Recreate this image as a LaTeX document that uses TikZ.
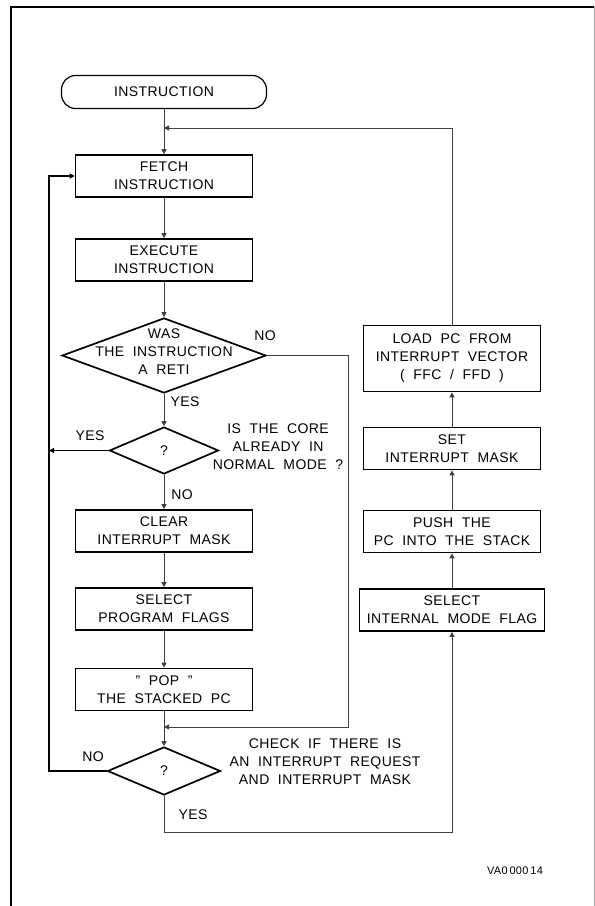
\documentclass[tikz,border=0pt]{standalone}
\usepackage{fontspec}
\setmainfont{Liberation Sans}[LetterSpace=3,WordSpace=2]
\usepackage{tikz}
\usetikzlibrary{arrows.meta,shapes}
\tikzstyle{txt}=[font=\fontsize{14}{18}\selectfont,align=center,inner sep=0pt]
\tikzstyle{box}=[txt,rectangle,draw,line width=1.7pt,minimum width=177pt,minimum height=42pt]
\tikzstyle{startbox}=[txt,rectangle,draw,line width=1.2pt,rounded corners=14pt,minimum width=205pt,minimum height=33pt]
\tikzstyle{decision}=[diamond,draw,line width=1.7pt,inner sep=0pt]
\tikzstyle{flow} = [draw,line width=0.9pt,black!75,-{Triangle[length=5pt,width=5pt]}]
\tikzstyle{loop} = [draw,line width=1.3pt,-{Triangle[length=5pt,width=5pt]}]
\tikzstyle{weight} = [txt]

\begin{document}
\begin{tikzpicture}[x=1pt,y=-1pt]
    \useasboundingbox (0,0) rectangle (595,906);
    % frame
    \draw[line width=2pt] (11,906) -- (11,6.5) -- (594,6.5);
    \draw[black!35,line width=0.8pt] (594,6.5) -- (594,906);

    \node[startbox] (start) at (164,92) {INSTRUCTION};

    % left column
    \foreach \pos/\name/\text in {{(164,176)/fetch/{FETCH\\INSTRUCTION}},
        {(164,260)/exec/{EXECUTE\\INSTRUCTION}},
        {(164,531)/clear/{CLEAR\\INTERRUPT MASK}},
        {(164,609)/flags/{SELECT\\PROGRAM FLAGS}},
        {(164,689.5)/pop/{" POP "\\THE STACKED PC}}}
        \node[box] (\name) at \pos {\text};

    % right column
    \node[box,minimum height=66pt] (load) at (452,358.5) {LOAD PC FROM\\INTERRUPT VECTOR\\( FFC / FFD )};
    \foreach \pos/\name/\text in {{(452,448.5)/setmask/{SET\\INTERRUPT MASK}},
        {(452,531.5)/push/{PUSH THE\\PC INTO THE STACK}}}
        \node[box] (\name) at \pos {\text};
    \node[box,minimum width=185pt] (mode) at (452,610) {SELECT\\INTERNAL MODE FLAG};

    % decisions
    \node[decision,minimum width=204pt,minimum height=75pt] (reti) at (164,355.5) {};
    \node[txt] (retitext) at (164,352) {WAS\\THE INSTRUCTION\\A RETI};
    \node[decision,minimum width=109pt,minimum height=47pt,txt] (normal) at (164,450.5) {?};
    \node[txt] (normaltext) at (278,447) {IS THE CORE\\ALREADY IN\\NORMAL MODE ?};
    \node[decision,minimum width=113pt,minimum height=48pt,txt] (check) at (164,771) {?};
    \node[txt] (checktext) at (325,762) {CHECK IF THERE IS\\AN INTERRUPT REQUEST\\AND INTERRUPT MASK};

    % merge points and corners
    \coordinate (topmerge) at (164,128);
    \coordinate (botmerge) at (164,727);
    \coordinate (loopx) at (49,450.5);

    % straight connectors
    \foreach \source/ \dest in {start/fetch, fetch/exec, exec/reti, reti/normal,
        normal/clear, clear/flags, flags/pop, pop/check, mode/push, push/setmask, setmask/load}
        \path[flow] (\source) -- (\dest);

    % bent connectors
    \path[flow] (load.north) |- (topmerge);
    \path[flow] (reti.east) -- (348,355.5) |- (botmerge);
    \path[flow] (check.south) -- (164,832) -| (mode.south);
    \path[loop] (check.west) -- (49,771) |- (fetch.west);
    \path[loop] (normal.west) -- (loopx);

    % yes / no
    \node[weight] (retino) at (265,336) {NO};
    \node[weight] (retiyes) at (185,402) {YES};
    \node[weight] (normalyes) at (90,436) {YES};
    \node[weight] (normalno) at (182,495) {NO};
    \node[weight] (checkno) at (93,757) {NO};
    \node[weight] (checkyes) at (193,815) {YES};

    \node[font=\fontsize{11}{13}\selectfont,inner sep=0pt] (ref) at (515,871) {VA0\,000\,14};
\end{tikzpicture}
\end{document}
